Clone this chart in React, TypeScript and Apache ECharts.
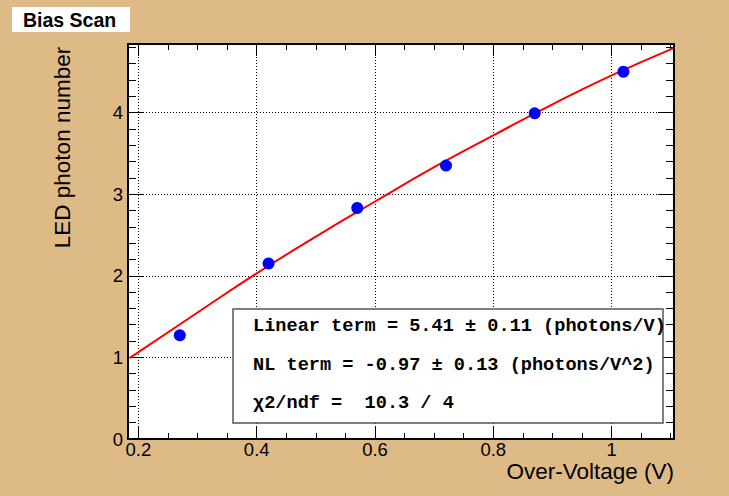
import React, { useEffect, useRef } from "react";
import * as echarts from "echarts";

// Measured data points (Over-Voltage [V], LED photon number)
const voltage = [0.27, 0.42, 0.57, 0.72, 0.87, 1.02];
const photons = [1.27, 2.15, 2.83, 3.35, 3.99, 4.5];

// Fit curve
const fitX = [0.185, 0.3, 0.4, 0.5, 0.6, 0.7, 0.8, 0.9, 1.0, 1.105];
const fitY = [0.99, 1.55, 2.03, 2.48, 2.91, 3.33, 3.72, 4.1, 4.455, 4.79];

// Axis ticks
const xMajor = [0.2, 0.4, 0.6, 0.8, 1.0];
const xMinor = [0.25, 0.3, 0.35, 0.45, 0.5, 0.55, 0.65, 0.7, 0.75, 0.85, 0.9, 0.95, 1.05, 1.1];
const yMajor = [0, 1, 2, 3, 4];
const yMinor = [0.2, 0.4, 0.6, 0.8, 1.2, 1.4, 1.6, 1.8, 2.2, 2.4, 2.6, 2.8, 3.2, 3.4, 3.6, 3.8, 4.2, 4.4, 4.6, 4.8];
const gridX = [0.2, 0.4, 0.6, 0.8, 1.0];
const gridY = [1, 2, 3, 4];

const X_MIN = 0.1824;
const X_MAX = 1.1055;
const Y_MIN = 0;
const Y_MAX = 4.84;

const title = "Bias Scan";
const xTitle = "Over-Voltage (V)";
const yTitle = "LED photon number";
const statLines = [
  "Linear term = 5.41 \u00b1 0.11 (photons/V)",
  "NL term = -0.97 \u00b1 0.13 (photons/V^2)",
  "\u03c72/ndf =  10.3 / 4",
];

const SANS = '"Liberation Sans", Arial, sans-serif';
const MONO = '"Liberation Mono", "Courier New", monospace';

export default function App() {
  const ref = useRef<HTMLDivElement>(null);

  useEffect(() => {
    if (!ref.current) return;
    const chart = echarts.init(ref.current, null, { renderer: "svg" });

    const tickAxis = (
      kind: "x" | "y",
      position: string,
      values: number[],
      length: number,
      withLabels: boolean,
      withLine: boolean
    ) => ({
      type: "value",
      position,
      min: kind === "x" ? X_MIN : Y_MIN,
      max: kind === "x" ? X_MAX : Y_MAX,
      axisLine: {
        show: withLine,
        onZero: false,
        lineStyle: { color: "#000", width: 2 },
      },
      axisTick: {
        show: true,
        inside: true,
        length,
        customValues: values,
        lineStyle: { color: "#000", width: 1 },
      },
      axisLabel: withLabels
        ? {
            show: true,
            customValues: values,
            color: "#000",
            fontFamily: SANS,
            fontSize: 18.5,
            margin: kind === "x" ? 1 : 5,
            formatter: (v: number) => String(Math.round(v * 10) / 10),
          }
        : { show: false },
      splitLine: { show: false },
      minorTick: { show: false },
    });

    const statTexts = statLines.map((s, i) => ({
      type: "text",
      left: 253,
      top: [328, 367, 405][i] - 11,
      z: 101,
      style: {
        text: s,
        font: `bold 18.6px ${MONO}`,
        fill: "#000",
      },
    }));

    chart.setOption({
      animation: false,
      backgroundColor: "#deba87",
      grid: { left: 128, right: 55, top: 44, bottom: 57, show: true, backgroundColor: "#fff", borderWidth: 0 },
      xAxis: [
        tickAxis("x", "bottom", xMajor, 12, true, true),
        tickAxis("x", "bottom", xMinor, 6, false, false),
        tickAxis("x", "top", xMajor, 12, false, true),
        tickAxis("x", "top", xMinor, 6, false, false),
      ],
      yAxis: [
        tickAxis("y", "left", yMajor, 16, true, true),
        tickAxis("y", "left", yMinor, 8, false, false),
        tickAxis("y", "right", yMajor, 16, false, true),
        tickAxis("y", "right", yMinor, 8, false, false),
      ],
      series: [
        {
          type: "line",
          data: [],
          xAxisIndex: 0,
          yAxisIndex: 0,
          silent: true,
          markLine: {
            z: 1,
            silent: true,
            symbol: ["none", "none"],
            label: { show: false },
            lineStyle: { color: "#000", type: [1, 2], width: 1 },
            emphasis: { disabled: true },
            data: [
              ...gridX.map((v) => ({ xAxis: v })),
              ...gridY.map((v) => ({ yAxis: v })),
            ],
          },
        },
        {
          type: "line",
          xAxisIndex: 0,
          yAxisIndex: 0,
          data: fitX.map((x, i) => [x, fitY[i]]),
          smooth: true,
          showSymbol: false,
          symbol: "none",
          z: 3,
          lineStyle: { color: "#ff0000", width: 2 },
        },
        {
          type: "scatter",
          xAxisIndex: 0,
          yAxisIndex: 0,
          data: voltage.map((x, i) => [x, photons[i]]),
          symbol: "circle",
          symbolSize: 12,
          z: 4,
          itemStyle: { color: "#0000ff", opacity: 1 },
        },
      ],
      graphic: [
        {
          type: "rect",
          shape: { x: 12, y: 7, width: 118, height: 25 },
          style: { fill: "#fff" },
          z: 100,
        },
        {
          type: "text",
          x: 23,
          y: 20,
          z: 101,
          style: {
            text: title,
            font: `bold 19.5px ${SANS}`,
            fill: "#000",
            verticalAlign: "middle",
            align: "left",
          },
        },
        {
          type: "text",
          x: 674,
          y: 471,
          z: 101,
          style: {
            text: xTitle,
            font: `22.5px ${SANS}`,
            fill: "#000",
            align: "right",
            verticalAlign: "middle",
          },
        },
        {
          type: "text",
          x: 62,
          y: 147.5,
          rotation: Math.PI / 2,
          z: 101,
          style: {
            text: yTitle,
            font: `22.5px ${SANS}`,
            fill: "#000",
            align: "center",
            verticalAlign: "middle",
          },
        },
        {
          type: "rect",
          shape: { x: 233, y: 309, width: 430, height: 114 },
          style: { fill: "#fff", stroke: "#555", lineWidth: 1.5 },
          z: 100,
        },
        ...statTexts,
      ],
    });

    return () => chart.dispose();
  }, []);

  return (
    <div
      ref={ref}
      style={{ position: "absolute", left: 0, top: 0, width: 729, height: 496 }}
    />
  );
}
